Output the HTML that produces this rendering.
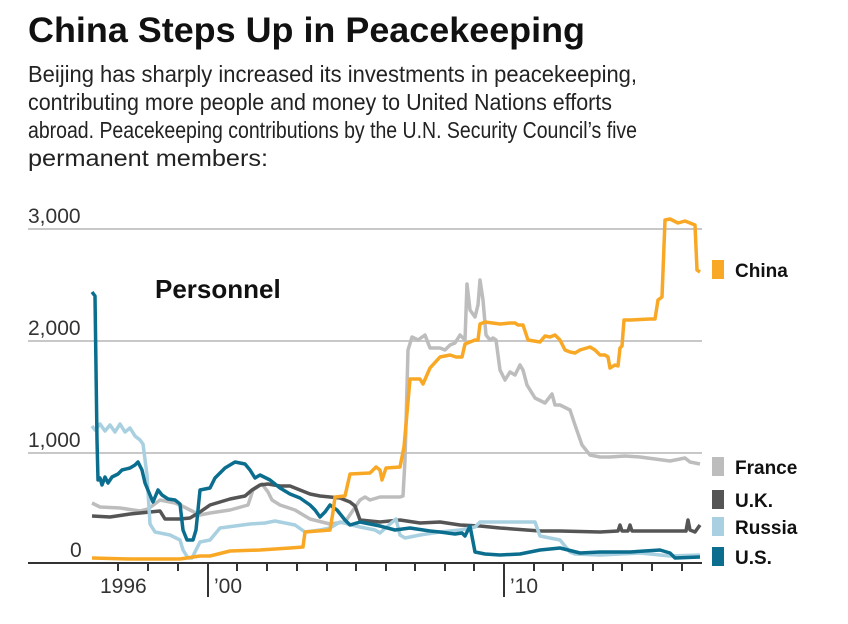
<!DOCTYPE html>
<html><head><meta charset="utf-8"><style>
body{margin:0;background:#fff;width:848px;height:624px;overflow:hidden}
svg{display:block}
text{font-family:"Liberation Sans",sans-serif}
</style></head><body>
<svg width="848" height="624" viewBox="0 0 848 624" xmlns="http://www.w3.org/2000/svg">
<text x="28" y="42" font-size="35" font-weight="bold" fill="#111" textLength="557" lengthAdjust="spacingAndGlyphs">China Steps Up in Peacekeeping</text>
<g font-size="23" fill="#222">
<text x="28" y="82" textLength="609" lengthAdjust="spacingAndGlyphs">Beijing has sharply increased its investments in peacekeeping,</text>
<text x="28" y="110" textLength="584" lengthAdjust="spacingAndGlyphs">contributing more people and money to United Nations efforts</text>
<text x="28" y="138" textLength="609" lengthAdjust="spacingAndGlyphs">abroad. Peacekeeping contributions by the U.N. Security Council’s five</text>
<text x="28" y="166" textLength="240" lengthAdjust="spacingAndGlyphs">permanent members:</text>
</g>
<g stroke="#c8c8c8" stroke-width="2">
<line x1="28" y1="229" x2="702" y2="229"/><line x1="28" y1="341" x2="702" y2="341"/><line x1="28" y1="453" x2="702" y2="453"/>
</g>
<g font-size="21" fill="#333">
<text x="28" y="223">3,000</text><text x="28" y="335">2,000</text><text x="28" y="447">1,000</text><text x="70" y="557">0</text>
<text x="100" y="593">1996</text><text x="214" y="593">’00</text><text x="510" y="593">’10</text>
</g>
<text x="155" y="298" font-size="26" font-weight="bold" fill="#111">Personnel</text>
<g fill="none" stroke-width="3.5" stroke-linejoin="round">
<polyline stroke="#bdbdbd" points="92,503 100,507 120,508 140,511 148,509 160,500 175,503 180,505 190,510 200,515 210,513 230,510 248,505 253,490 262,484 268,492 272,500 280,505 295,510 300,513 310,519 330,524 345,522 360,500 365,497 370,500 380,497 400,497 403,496 405,460 408,350 412,337 418,340 425,335 430,348 440,348 445,350 450,345 455,343 460,335 465,340 467,284 470,310 475,317 478,305 480,280 483,300 486,335 490,340 493,338 496,340 500,370 505,380 510,372 515,375 520,365 523,370 527,385 535,398 545,403 552,394 555,405 560,405 570,410 575,425 582,445 590,455 600,457 610,457 625,456 640,457 655,459 670,461 685,458 690,462 700,464"/>
<polyline stroke="#555" points="92,516 110,517 130,514 150,512 160,511 165,519 180,519 190,518 200,512 210,505 230,499 245,496 252,490 260,485 268,484 280,486 290,486 300,490 310,494 320,496 340,498 350,502 355,506 360,520 380,522 400,520 420,523 440,522 460,525 480,526 500,528 540,531 560,531 600,532 618,531 620,525 622,531 628,531 630,525 632,531 686,531 688,520 690,530 695,532 700,525"/>
<polyline stroke="#a8d0e0" points="92,426 95,430 100,424 105,431 110,425 115,432 120,424 125,432 130,428 135,436 140,440 143,444 147,475 150,524 155,532 170,535 180,540 183,550 188,558 192,558 196,550 200,542 210,540 220,528 235,526 250,524 265,523 275,521 280,522 295,525 305,532 320,530 330,528 340,522 360,527 375,530 380,533 390,524 396,519 400,535 405,538 420,535 440,532 460,530 475,527 480,522 520,522 530,522 535,522 540,536 560,540 570,552 575,554 600,555 640,553 660,555 670,556 700,555"/>
<polyline stroke="#0b6e8f" points="92,292 95,296 97,440 98,480 100,478 102,485 105,477 108,483 112,477 118,474 122,470 130,468 135,465 138,462 142,470 145,483 150,495 153,502 158,490 162,495 168,499 175,500 180,504 183,530 187,540 193,540 196,530 200,490 210,488 215,478 225,468 230,465 235,462 245,464 250,470 255,478 260,475 270,480 280,488 290,494 300,498 310,505 315,510 320,517 325,512 330,505 337,510 345,520 350,525 360,522 380,526 395,530 410,528 430,531 440,532 455,534 462,533 465,536 470,526 475,552 485,554 500,555 520,554 540,550 560,548 580,553 600,552 630,552 660,550 670,553 675,558 700,557"/>
<polyline stroke="#f9a825" points="92,558 130,559 180,559 200,556 210,556 230,551 260,550 290,548 303,547 305,532 330,530 333,512 335,497 345,496 350,474 370,473 376,467 380,470 382,480 386,468 400,467 404,447 410,379 420,379 423,384 430,368 440,357 450,355 456,357 462,357 465,344 475,340 478,340 480,324 485,322 500,324 510,323 515,323 518,325 523,325 528,340 540,342 545,336 550,337 555,335 560,340 565,350 570,352 575,353 580,350 590,347 595,350 600,355 605,355 608,357 610,368 615,365 618,366 620,348 622,346 624,320 630,320 650,319 655,319 658,300 662,297 665,220 670,219 678,223 685,221 690,223 695,225 697,270 700,272"/>
</g>
<g stroke="#333" stroke-width="2">
<line x1="28" y1="563" x2="702" y2="563"/>
<line x1="118" y1="563" x2="118" y2="571"/><line x1="148" y1="563" x2="148" y2="571"/><line x1="178" y1="563" x2="178" y2="571"/>
<line x1="208" y1="563" x2="208" y2="597"/>
<line x1="237" y1="563" x2="237" y2="571"/><line x1="267" y1="563" x2="267" y2="571"/><line x1="297" y1="563" x2="297" y2="571"/><line x1="327" y1="563" x2="327" y2="571"/><line x1="356" y1="563" x2="356" y2="571"/><line x1="386" y1="563" x2="386" y2="571"/><line x1="415" y1="563" x2="415" y2="571"/><line x1="445" y1="563" x2="445" y2="571"/><line x1="474" y1="563" x2="474" y2="571"/>
<line x1="504" y1="563" x2="504" y2="597"/>
<line x1="534" y1="563" x2="534" y2="571"/><line x1="563" y1="563" x2="563" y2="571"/><line x1="593" y1="563" x2="593" y2="571"/><line x1="622" y1="563" x2="622" y2="571"/><line x1="652" y1="563" x2="652" y2="571"/><line x1="682" y1="563" x2="682" y2="571"/>
</g>
<rect x="712" y="260" width="12" height="19" fill="#f9a825"/>
<rect x="712" y="457" width="12" height="19" fill="#bdbdbd"/>
<rect x="712" y="490" width="12" height="19" fill="#555"/>
<rect x="712" y="517" width="12" height="19" fill="#a8d0e0"/>
<rect x="712" y="547" width="12" height="19" fill="#0b6e8f"/>
<g font-size="19" font-weight="bold" fill="#111">
<text x="735" y="277">China</text><text x="735" y="474">France</text><text x="735" y="507">U.K.</text><text x="735" y="534">Russia</text><text x="735" y="564">U.S.</text>
</g>
</svg>
</body></html>
